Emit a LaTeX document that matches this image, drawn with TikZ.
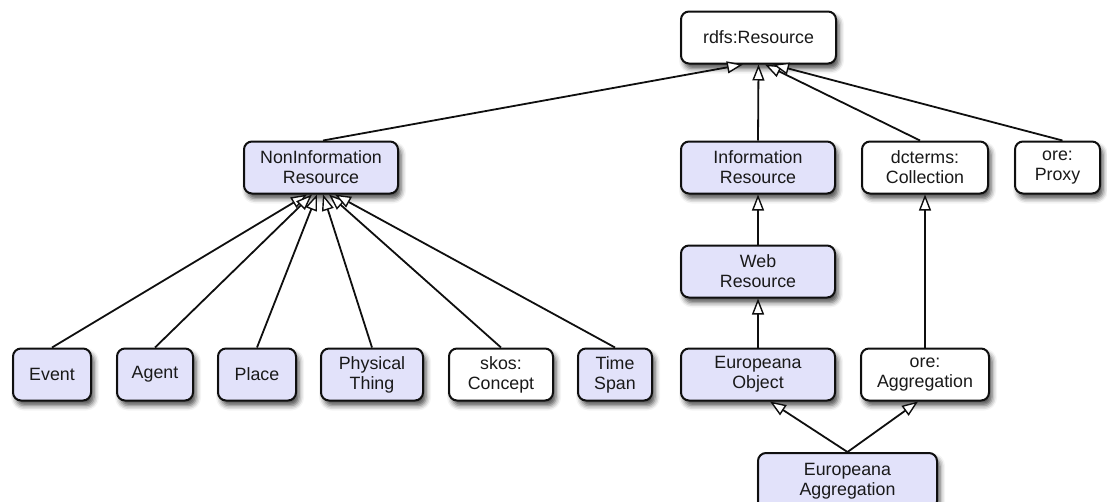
\documentclass[tikz,border=0pt]{standalone}
\usepackage{fontspec}
\setmainfont{Liberation Sans}
\usetikzlibrary{arrows.meta,shadows.blur}
\definecolor{boxblue}{RGB}{226,226,250}
\definecolor{txt}{RGB}{25,25,25}
\definecolor{edge}{RGB}{15,15,15}
\tikzset{
  cls/.style={draw=edge, line width=2pt, rounded corners=8pt, align=center,
    text=txt, inner sep=0pt, font=\fontsize{17.8}{20}\selectfont,
    blur shadow={shadow xshift=3pt, shadow yshift=-5pt, shadow blur radius=5pt, shadow opacity=70},
    minimum height=52pt},
  blue/.style={cls, fill=boxblue},
  white/.style={cls, fill=white},
  isa/.style={draw=edge, line width=1.8pt,
    -{Triangle[length=16pt, width=12pt, fill=white, line width=1.4pt]}}
}
\begin{document}
\begin{tikzpicture}[x=1pt, y=-1pt]
\useasboundingbox (0,0) rectangle (1107,501);
% top
\node[white, minimum width=155pt] (rdfs) at (758.5,37.5) {rdfs:Resource};
% second row
\node[blue, minimum width=154pt] (noninfo) at (321,167.5) {NonInformation\\Resource};
\node[blue, minimum width=154pt] (info) at (758,167.5) {Information\\Resource};
\node[white, minimum width=126pt] (dcterms) at (925,167.5) {dcterms:\\Collection};
\node[white, minimum width=85pt] (proxy) at (1057.5,167.5) {ore:\\Proxy};
% third
\node[blue, minimum width=154pt] (web) at (758,271.5) {Web\\Resource};
% bottom row
\node[blue, minimum width=78pt] (event) at (52,374.5) {Event};
\node[blue, minimum width=76pt] (agent) at (155,374.5) {Agent};
\node[blue, minimum width=78pt] (place) at (257,374.5) {Place};
\node[blue, minimum width=102pt] (pt) at (372,374.5) {Physical\\Thing};
\node[white, minimum width=104pt] (skos) at (501,374.5) {skos:\\Concept};
\node[blue, minimum width=74pt] (ts) at (615,374.5) {Time\\Span};
\node[blue, minimum width=154pt] (eobj) at (758,374.5) {Europeana\\Object};
\node[white, minimum width=128pt] (oreagg) at (925,374.5) {ore:\\Aggregation};
% last (cut by the lower edge)
\node[blue, minimum width=179pt, minimum height=56pt] (eagg) at (847.5,481) {Europeana\\Aggregation};
% edges to rdfs
\draw[isa] ([xshift=2pt]noninfo.north) -- ([xshift=-15.5pt]rdfs.south);
\draw[isa] (info.north) -- (rdfs.south);
\draw[isa] ([xshift=-5pt]dcterms.north) -- ([xshift=6.5pt]rdfs.south);
\draw[isa] ([xshift=5pt]proxy.north) -- ([xshift=14.5pt]rdfs.south);
% edges to noninfo
\draw[isa] (event.north) -- ([xshift=-14pt]noninfo.south);
\draw[isa] (agent.north) -- ([xshift=-9pt]noninfo.south);
\draw[isa] (place.north) -- ([xshift=-4pt]noninfo.south);
\draw[isa] (pt.north) -- ([xshift=2pt]noninfo.south);
\draw[isa] (skos.north) -- ([xshift=8pt]noninfo.south);
\draw[isa] (ts.north) -- ([xshift=14pt]noninfo.south);
% right column
\draw[isa] (web.north) -- (info.south);
\draw[isa] (eobj.north) -- (web.south);
\draw[isa] (oreagg.north) -- (dcterms.south);
\draw[isa] (eagg.north) -- ([xshift=12pt]eobj.south);
\draw[isa] (eagg.north) -- ([xshift=-7pt]oreagg.south);
\end{tikzpicture}
\end{document}
